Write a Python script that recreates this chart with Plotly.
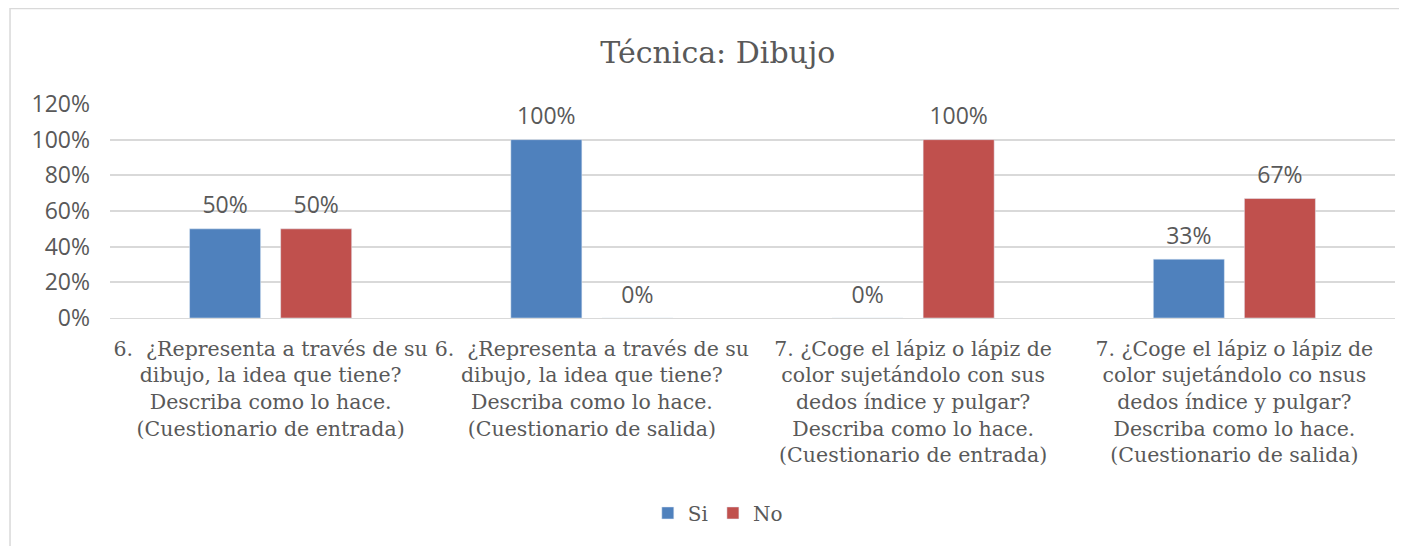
import plotly.graph_objects as go

categories = [
    "6.  ¿Representa a través de su<br>dibujo, la idea que tiene?<br>Describa como lo hace.<br>(Cuestionario de entrada)",
    "6.  ¿Representa a través de su<br>dibujo, la idea que tiene?<br>Describa como lo hace.<br>(Cuestionario de salida)",
    "7. ¿Coge el lápiz o lápiz de<br>color sujetándolo con sus<br>dedos índice y pulgar?<br>Describa como lo hace.<br>(Cuestionario de entrada)",
    "7. ¿Coge el lápiz o lápiz de<br>color sujetándolo co nsus<br>dedos índice y pulgar?<br>Describa como lo hace.<br>(Cuestionario de salida)",
]
si_values = [0.50, 1.00, 0.00, 0.33]
no_values = [0.50, 0.00, 1.00, 0.67]
y_ticks = [0, 0.2, 0.4, 0.6, 0.8, 1.0, 1.2]

SANS = "Open Sans"
SERIF = "DejaVu Serif"
GREY = "#595959"
BLUE = "#4F81BD"
RED = "#C0504D"

fig = go.Figure()
fig.add_trace(go.Bar(name="Si", x=categories, y=si_values, marker_color=BLUE))
fig.add_trace(go.Bar(name="No", x=categories, y=no_values, marker_color=RED))

# data labels, as grouped text scatters so they can sit a bit higher
for vals in (si_values, no_values):
    fig.add_trace(go.Scatter(
        x=categories, y=vals, mode="markers+text",
        text=[f"{v:.0%}" for v in vals], textposition="top center",
        textfont=dict(family=SANS, size=23, color=GREY),
        marker=dict(size=14, opacity=0), showlegend=False,
        hoverinfo="skip", cliponaxis=False,
    ))

fig.update_xaxes(
    tickfont=dict(family=SERIF, size=20.5, color=GREY),
    showline=True, linecolor="#D9D9D9", ticks="", ticklabelstandoff=12,
)
fig.update_yaxes(
    range=[0, 1.2], tickvals=y_ticks, tickformat=".0%",
    tickfont=dict(family=SANS, size=23, color=GREY),
    gridcolor="#D9D9D9", gridwidth=1.5, zeroline=False, ticklabelstandoff=19,
)

# chart border like the Excel chart area
fig.add_shape(type="rect", xref="paper", yref="paper",
              x0=-0.0778, x1=1.1, y0=-1.5, y1=1.446,
              line=dict(color="#D9D9D9", width=1.5), fillcolor="rgba(0,0,0,0)")

fig.update_layout(
    title=dict(text="Técnica: Dibujo", x=0.473, xref="paper", xanchor="center",
               y=0.919, yanchor="middle",
               font=dict(family=SERIF, size=30, color=GREY)),
    barmode="group", bargap=0.433, bargroupgap=0.22,
    scattermode="group", scattergap=0.433,
    legend=dict(orientation="h", x=0.473, xanchor="center", y=-0.911, yanchor="middle",
                font=dict(family=SERIF, size=20, color=GREY), itemwidth=30),
    plot_bgcolor="white", paper_bgcolor="white",
    width=1407, height=546,
    margin=dict(t=96, b=236, l=102, r=20, pad=0),
)

fig.write_html("out.html")
